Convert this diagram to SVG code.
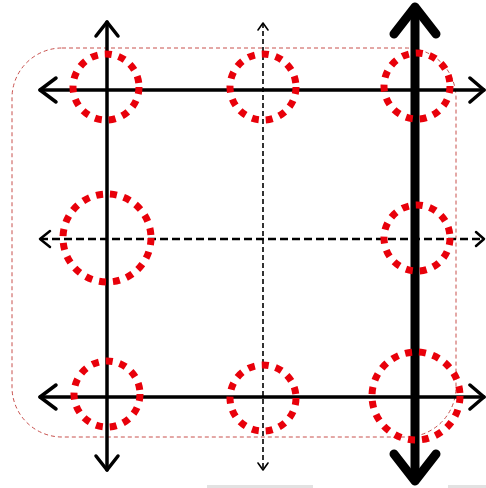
<svg xmlns="http://www.w3.org/2000/svg" width="486" height="488" viewBox="0 0 486 488">
<style>
.frame{fill:none;stroke:#c8504d;stroke-width:1;stroke-dasharray:4 3}
.ring{fill:none;stroke:#e8000a;stroke-width:7;stroke-dasharray:7 7}
.solid{fill:none;stroke:#000;stroke-width:3.5;stroke-linecap:round;stroke-linejoin:round}
.thick{fill:none;stroke:#000;stroke-width:9;stroke-linecap:round;stroke-linejoin:round}
.dashv{fill:none;stroke:#000;stroke-width:1.6;stroke-dasharray:5 3}
.dashh{fill:none;stroke:#000;stroke-width:2.5;stroke-dasharray:8 4}
.tip{fill:none;stroke:#000;stroke-linecap:round;stroke-linejoin:round}
</style>
<rect x="0" y="0" width="486" height="488" fill="#fff"/>
<rect x="207" y="485" width="106" height="3" fill="#e2e2e2"/>
<rect x="448" y="485" width="38" height="3" fill="#e2e2e2"/>
<g id="frame"><rect class="frame" x="12" y="48" width="444" height="389" rx="50" ry="50"/></g>
<g id="connectors">
<line class="solid" x1="107" y1="22" x2="107" y2="470"/>
<polyline class="solid" points="96,36 107,22 118,36"/>
<polyline class="solid" points="96,456 107,470 118,456"/>
<line class="dashv" x1="263" y1="23" x2="263" y2="470"/>
<polyline class="tip" stroke-width="1.6" points="258,30 263,23 268,30"/>
<polyline class="tip" stroke-width="1.6" points="258,463 263,470 268,463"/>
<line class="thick" x1="415" y1="8" x2="415" y2="480"/>
<polyline class="thick" points="394,34 415,7 436,34"/>
<polyline class="thick" points="394,454 415,481 436,454"/>
<line class="solid" x1="40" y1="90" x2="484" y2="90"/>
<polyline class="solid" points="56,78 40,90 56,102"/>
<polyline class="solid" points="470,78 484,90 470,102"/>
<line class="dashh" x1="40" y1="239" x2="484" y2="239"/>
<polyline class="tip" stroke-width="2.5" points="50,231 40,239 50,247"/>
<polyline class="tip" stroke-width="2.5" points="476,232 484,239 476,246"/>
<line class="solid" x1="40" y1="397" x2="484" y2="397"/>
<polyline class="solid" points="56,385 40,397 56,409"/>
<polyline class="solid" points="470,385 484,397 470,409"/>
</g>
<g id="n1"><circle class="ring" cx="106" cy="87" r="33"/></g>
<g id="n2"><circle class="ring" cx="263" cy="87" r="33"/></g>
<g id="n3"><circle class="ring" cx="417" cy="86" r="33"/></g>
<g id="n4"><circle class="ring" cx="107" cy="238" r="44"/></g>
<g id="n5"><circle class="ring" cx="417" cy="238" r="33"/></g>
<g id="n6"><circle class="ring" cx="107" cy="394" r="33"/></g>
<g id="n7"><circle class="ring" cx="263" cy="398" r="33"/></g>
<g id="n8"><circle class="ring" cx="416" cy="396" r="44"/></g>
</svg>
